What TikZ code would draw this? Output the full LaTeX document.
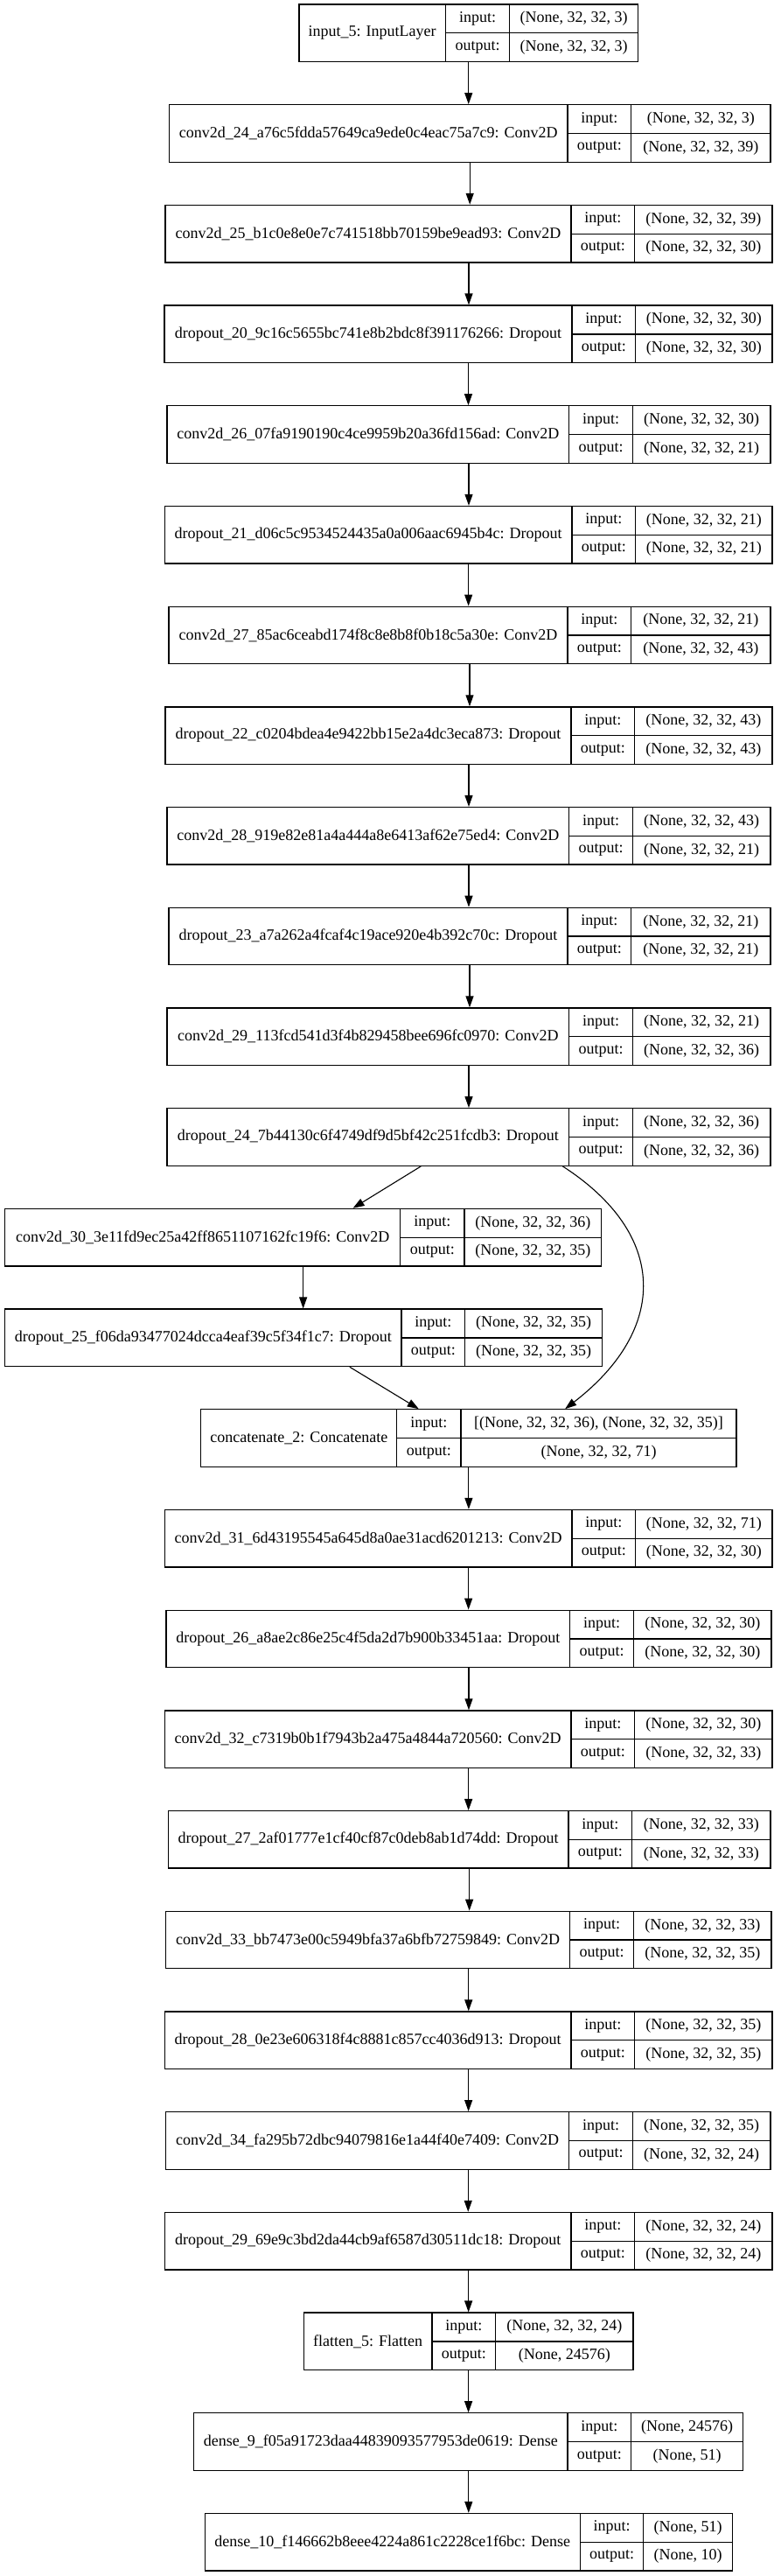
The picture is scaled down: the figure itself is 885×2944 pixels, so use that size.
\documentclass[tikz,border=0pt]{standalone}
\usepackage{fontspec}
\setmainfont{Liberation Serif}
\usetikzlibrary{arrows.meta,calc}
\tikzset{
  layerbox/.style={draw,line width=1.3pt,rectangle,inner sep=0pt},
  sep/.style={line width=1.3pt},
  txt/.style={inner sep=0pt,font=\fontsize{18}{21}\selectfont},
  arr/.style={line width=1.1pt,-{Triangle[length=13pt,width=9pt]}},
}
% name, index, x0, x1, x2, x3, label, input, output
\newcommand\klayer[9]{%
  \pgfmathsetmacro\ktop{5+114.7*#2}%
  \pgfmathsetmacro\kbot{\ktop+65.5}%
  \pgfmathsetmacro\kmid{\ktop+32.75}%
  \pgfmathsetmacro\kcx{(#3+#6)/2}%
  \pgfmathsetmacro\kw{#6-#3}%
  \node[layerbox,minimum width=\kw pt,minimum height=65.5pt] (#1) at (\kcx,\kmid) {};
  \draw[sep] (#4,\ktop) -- (#4,\kbot);
  \draw[sep] (#5,\ktop) -- (#5,\kbot);
  \draw[sep] (#4,\kmid) -- (#6,\kmid);
  \node[txt] (#1-l) at ({(#3+#4)/2},\kmid) {#7};
  \node[txt] (#1-i) at ({(#4+#5)/2},{\ktop+16.4}) {input:};
  \node[txt] (#1-o) at ({(#4+#5)/2},{\ktop+49.1}) {output:};
  \node[txt] (#1-iv) at ({(#5+#6)/2},{\ktop+16.4}) {#8};
  \node[txt] (#1-ov) at ({(#5+#6)/2},{\ktop+49.1}) {#9};
}
\begin{document}
\begin{tikzpicture}[x=1pt,y=-1pt]
\useasboundingbox (0,0) rectangle (885,2944);
\klayer{n0}{0}{342}{509.4}{582.6}{729.5}{input\_5: InputLayer}{(None, 32, 32, 3)}{(None, 32, 32, 3)}
\klayer{n1}{1}{193.4}{649}{721.6}{881}{conv2d\_24\_a76c5fdda57649ca9ede0c4eac75a7c9: Conv2D}{(None, 32, 32, 3)}{(None, 32, 32, 39)}
\klayer{n2}{2}{189}{653}{725.6}{883}{conv2d\_25\_b1c0e8e0e7c741518bb70159be9ead93: Conv2D}{(None, 32, 32, 39)}{(None, 32, 32, 30)}
\klayer{n3}{3}{188}{654}{726.7}{883}{dropout\_20\_9c16c5655bc741e8b2bdc8f391176266: Dropout}{(None, 32, 32, 30)}{(None, 32, 32, 30)}
\klayer{n4}{4}{191}{650.7}{723.3}{881}{conv2d\_26\_07fa9190190c4ce9959b20a36fd156ad: Conv2D}{(None, 32, 32, 30)}{(None, 32, 32, 21)}
\klayer{n5}{5}{188.3}{654}{726.7}{883}{dropout\_21\_d06c5c9534524435a0a006aac6945b4c: Dropout}{(None, 32, 32, 21)}{(None, 32, 32, 21)}
\klayer{n6}{6}{193}{649}{721.6}{881}{conv2d\_27\_85ac6ceabd174f8c8e8b8f0b18c5a30e: Conv2D}{(None, 32, 32, 21)}{(None, 32, 32, 43)}
\klayer{n7}{7}{189}{653}{725.6}{883}{dropout\_22\_c0204bdea4e9422bb15e2a4dc3eca873: Dropout}{(None, 32, 32, 43)}{(None, 32, 32, 43)}
\klayer{n8}{8}{191}{650.7}{723.3}{881}{conv2d\_28\_919e82e81a4a444a8e6413af62e75ed4: Conv2D}{(None, 32, 32, 43)}{(None, 32, 32, 21)}
\klayer{n9}{9}{193}{649}{721.6}{881}{dropout\_23\_a7a262a4fcaf4c19ace920e4b392c70c: Dropout}{(None, 32, 32, 21)}{(None, 32, 32, 21)}
\klayer{n10}{10}{191}{650.7}{723.3}{881}{conv2d\_29\_113fcd541d3f4b829458bee696fc0970: Conv2D}{(None, 32, 32, 21)}{(None, 32, 32, 36)}
\klayer{n11}{11}{191}{650.7}{723.3}{881}{dropout\_24\_7b44130c6f4749df9d5bf42c251fcdb3: Dropout}{(None, 32, 32, 36)}{(None, 32, 32, 36)}
\klayer{n12}{12}{5.7}{457.8}{531}{687.6}{conv2d\_30\_3e11fd9ec25a42ff8651107162fc19f6: Conv2D}{(None, 32, 32, 36)}{(None, 32, 32, 35)}
\klayer{n13}{13}{5.7}{459}{531.6}{688.7}{dropout\_25\_f06da93477024dcca4eaf39c5f34f1c7: Dropout}{(None, 32, 32, 35)}{(None, 32, 32, 35)}
\klayer{n14}{14}{229.8}{453.8}{527}{842}{concatenate\_2: Concatenate}{[(None, 32, 32, 36), (None, 32, 32, 35)]}{(None, 32, 32, 71)}
\klayer{n15}{15}{188.3}{654}{726.7}{883}{conv2d\_31\_6d43195545a645d8a0ae31acd6201213: Conv2D}{(None, 32, 32, 71)}{(None, 32, 32, 30)}
\klayer{n16}{16}{190}{651.8}{724.5}{882}{dropout\_26\_a8ae2c86e25c4f5da2d7b900b33451aa: Dropout}{(None, 32, 32, 30)}{(None, 32, 32, 30)}
\klayer{n17}{17}{188.3}{653}{725.6}{883}{conv2d\_32\_c7319b0b1f7943b2a475a4844a720560: Conv2D}{(None, 32, 32, 30)}{(None, 32, 32, 33)}
\klayer{n18}{18}{192.3}{650}{722.7}{881}{dropout\_27\_2af01777e1cf40cf87c0deb8ab1d74dd: Dropout}{(None, 32, 32, 33)}{(None, 32, 32, 33)}
\klayer{n19}{19}{189.5}{651.8}{724.5}{882}{conv2d\_33\_bb7473e00c5949bfa37a6bfb72759849: Conv2D}{(None, 32, 32, 33)}{(None, 32, 32, 35)}
\klayer{n20}{20}{188.3}{653}{725.6}{883}{dropout\_28\_0e23e606318f4c8881c857cc4036d913: Dropout}{(None, 32, 32, 35)}{(None, 32, 32, 35)}
\klayer{n21}{21}{189.5}{650.7}{723.3}{881}{conv2d\_34\_fa295b72dbc94079816e1a44f40e7409: Conv2D}{(None, 32, 32, 35)}{(None, 32, 32, 24)}
\klayer{n22}{22}{188.3}{653}{725.6}{883}{dropout\_29\_69e9c3bd2da44cb9af6587d30511dc18: Dropout}{(None, 32, 32, 24)}{(None, 32, 32, 24)}
\klayer{n23}{23}{347.2}{494.1}{566.7}{724}{flatten\_5: Flatten}{(None, 32, 32, 24)}{(None, 24576)}
\klayer{n24}{24}{221.8}{649}{721.6}{849.8}{dense\_9\_f05a91723daa44839093577953de0619: Dense}{(None, 24576)}{(None, 51)}
\klayer{n25}{25}{234.3}{663.2}{735.8}{837.3}{dense\_10\_f146662b8eee4224a861c2228ce1f6bc: Dense}{(None, 51)}{(None, 10)}
% straight chain
\foreach \a/\b in {n0/n1,n1/n2,n2/n3,n3/n4,n4/n5,n5/n6,n6/n7,n7/n8,n8/n9,n9/n10,n10/n11,
                   n12/n13,n14/n15,n15/n16,n16/n17,n17/n18,n18/n19,n19/n20,n20/n21,n21/n22,n22/n23,n23/n24,n24/n25}
  \draw[arr] (\a.south) -- (\a.south |- \b.north);
% branches
\draw[arr] ($(n11.south west)+(291,0)$) -- ($(n12.north west)+(398.5,0)$);
\draw[arr] ($(n13.south west)+(394.8,0)$) -- ($(n14.north west)+(249.6,0)$);
\draw[arr] ($(n11.south west)+(453,0)$) .. controls +(121,78) and +(118,-91) .. ($(n14.north west)+(417,0)$);
\end{tikzpicture}
\end{document}
